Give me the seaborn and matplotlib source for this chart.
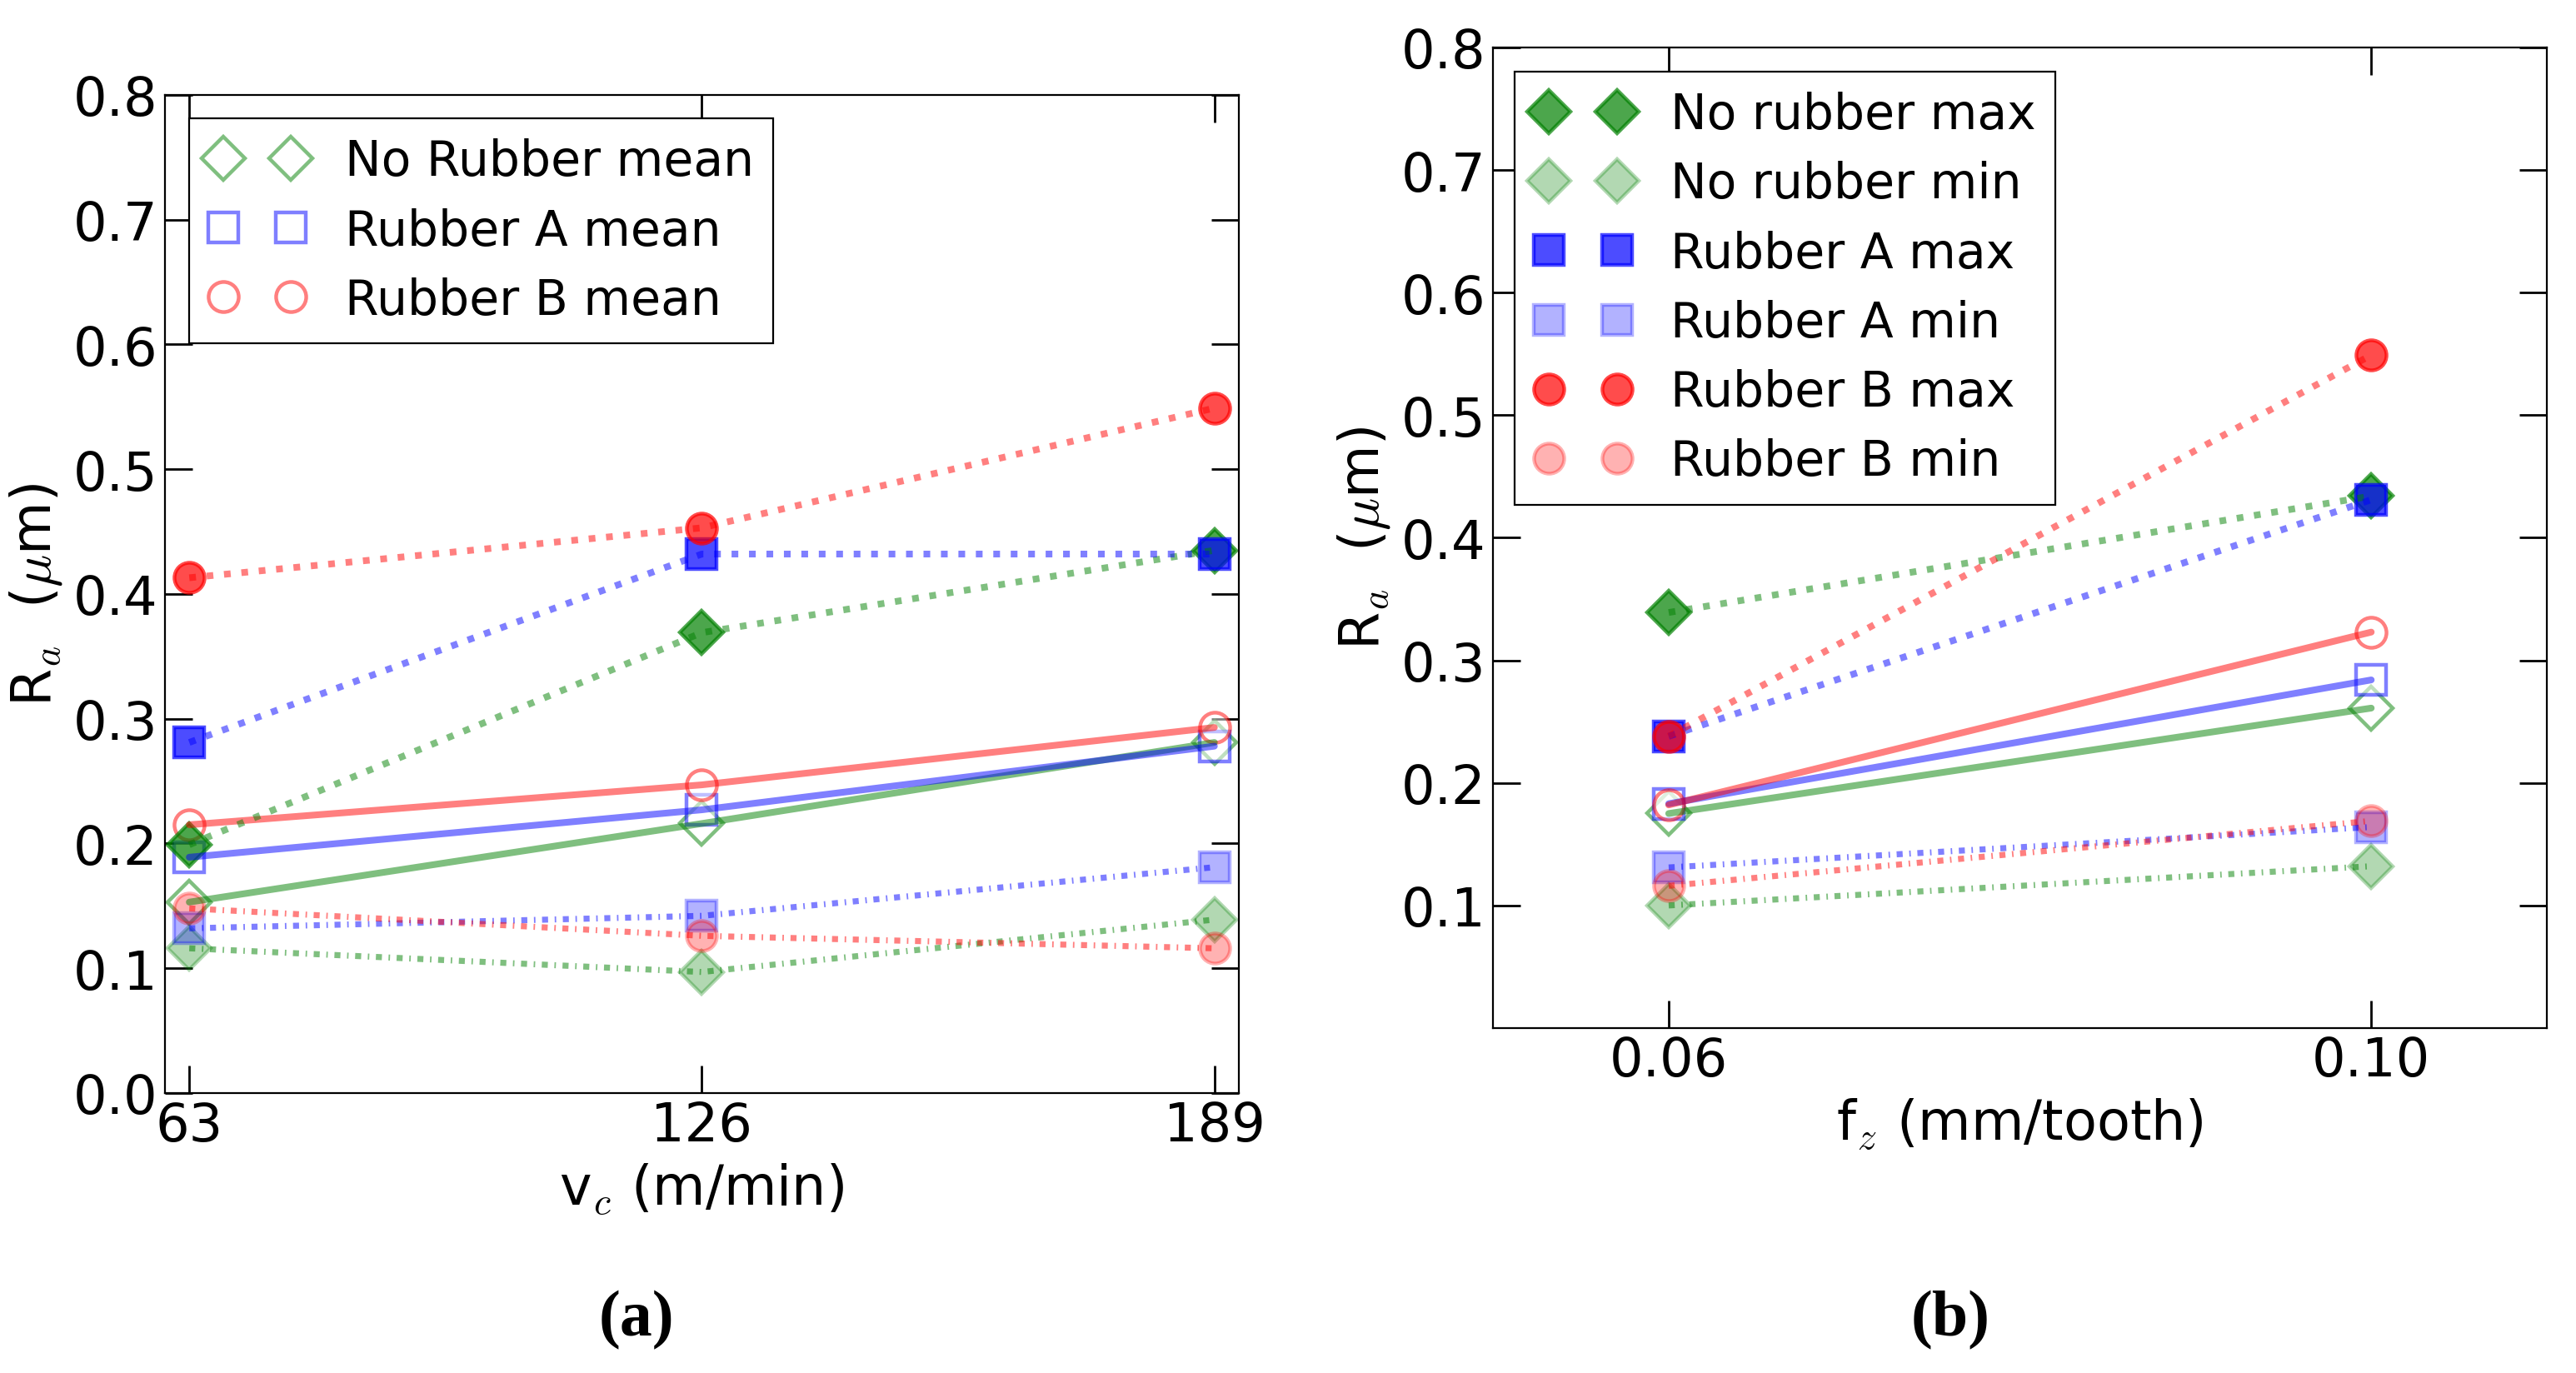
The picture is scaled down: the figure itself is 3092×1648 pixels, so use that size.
import matplotlib
matplotlib.use('Agg')
import matplotlib.pyplot as plt
from matplotlib.lines import Line2D
import seaborn as sns

# ---- dane: v_c
vc = [63, 126, 189]
vc_none_mean = [0.153, 0.216, 0.281]
vc_a_mean = [0.189, 0.227, 0.278]
vc_b_mean = [0.215, 0.247, 0.293]
vc_none_max = [0.199, 0.369, 0.435]
vc_a_max = [0.281, 0.432, 0.432]
vc_b_max = [0.413, 0.453, 0.549]
vc_none_min = [0.116, 0.097, 0.139]
vc_a_min = [0.132, 0.142, 0.181]
vc_b_min = [0.148, 0.126, 0.116]

# ---- dane: f_z
fz = [0.06, 0.10]
fz_none_mean = [0.175, 0.261]
fz_a_mean = [0.183, 0.284]
fz_b_mean = [0.182, 0.323]
fz_none_max = [0.339, 0.434]
fz_a_max = [0.238, 0.431]
fz_b_max = [0.238, 0.549]
fz_none_min = [0.100, 0.132]
fz_a_min = [0.131, 0.164]
fz_b_min = [0.116, 0.169]

vc_ticks = [63, 126, 189]
fz_ticks = [0.06, 0.10]
fz_ticklabels = ['0.06', '0.10']

labels_mean = ['No Rubber mean', 'Rubber A mean', 'Rubber B mean']
labels_maxmin = ['No rubber max', 'No rubber min', 'Rubber A max', 'Rubber A min',
                 'Rubber B max', 'Rubber B min']

kolory = ['#008000', '#0000ff', '#ff0000']
markery = ['D', 's', 'o']

sns.set_theme(style='white')
plt.rcParams.update({
    'font.family': ['DejaVu Sans'],
    'mathtext.fontset': 'cm',
    'font.size': 23, 'axes.labelsize': 23.5, 'xtick.labelsize': 23,
    'ytick.labelsize': 23, 'legend.fontsize': 21,
    'xtick.direction': 'in', 'ytick.direction': 'in',
    'xtick.bottom': True, 'ytick.left': True,
    'xtick.top': True, 'ytick.right': True,
    'xtick.major.size': 12, 'ytick.major.size': 12,
    'xtick.major.width': 1, 'ytick.major.width': 1,
    'xtick.major.pad': 3, 'ytick.major.pad': 3,
    'xtick.color': 'black', 'ytick.color': 'black',
    'axes.edgecolor': 'black', 'axes.linewidth': 0.8,
    'axes.labelcolor': 'black', 'text.color': 'black',
})

STYL = {
    'mean': dict(lw=2.9, ls='-', alpha=0.5),
    'max': dict(lw=2.9, ls=(0, (1, 1.6)), alpha=0.5),
    'min': dict(lw=2.6, ls=(0, (1, 1.1, 0.25, 1.1)), alpha=0.5),
}


def marker_kw(kolor, marker, rodzaj):
    if rodzaj == 'mean':
        return dict(marker=marker, ms=13, mfc='white', mec=kolor, mew=1.6, alpha=0.5)
    if rodzaj == 'max':
        return dict(marker=marker, ms=13, mfc=kolor, mec=kolor, mew=1.6, alpha=0.7)
    return dict(marker=marker, ms=13, mfc=kolor, mec=kolor, mew=1.6, alpha=0.3)


def rysuj(ax, x, serie):
    for rodzaj, wartosci in serie:
        for y, kolor, marker in zip(wartosci, kolory, markery):
            sns.lineplot(x=x, y=y, ax=ax, linestyle='none', zorder=2,
                         **marker_kw(kolor, marker, rodzaj))
    for rodzaj, wartosci in serie:
        for y, kolor in zip(wartosci, kolory):
            s = STYL[rodzaj]
            sns.lineplot(x=x, y=y, ax=ax, color=kolor, linewidth=s['lw'],
                         linestyle=s['ls'], alpha=s['alpha'], zorder=3)


def uchwyt(kolor, marker, rodzaj):
    return Line2D([], [], linestyle='none', **marker_kw(kolor, marker, rodzaj))


fig = plt.figure(figsize=(15.46, 8.245), dpi=200)
ax1 = fig.add_axes([0.0640, 0.2038, 0.4169, 0.7265])
ax2 = fig.add_axes([0.5796, 0.2511, 0.4091, 0.7138])

rysuj(ax1, vc, [('mean', [vc_none_mean, vc_a_mean, vc_b_mean]),
                ('max', [vc_none_max, vc_a_max, vc_b_max]),
                ('min', [vc_none_min, vc_a_min, vc_b_min])])
rysuj(ax2, fz, [('mean', [fz_none_mean, fz_a_mean, fz_b_mean]),
                ('max', [fz_none_max, fz_a_max, fz_b_max]),
                ('min', [fz_none_min, fz_a_min, fz_b_min])])

ax1.set_xlim(60, 192)
ax1.set_ylim(0, 0.8)
ax1.set_xticks(vc_ticks)
ax1.set_yticks([0.0, 0.1, 0.2, 0.3, 0.4, 0.5, 0.6, 0.7, 0.8])
ax1.set_xlabel(r'v$_c$ (m/min)')
ax1.set_ylabel(r'R$_a$  ($\mu$m)')

ax2.set_xlim(0.05, 0.11)
ax2.set_ylim(0, 0.8)
ax2.set_xticks(fz_ticks)
ax2.set_xticklabels(fz_ticklabels)
ax2.set_yticks([0.1, 0.2, 0.3, 0.4, 0.5, 0.6, 0.7, 0.8])
ax2.set_xlabel(r'f$_z$ (mm/tooth)')
ax2.set_ylabel(r'R$_a$  ($\mu$m)')

for ax in (ax1, ax2):
    for sp in ax.spines.values():
        sp.set_visible(True)
        sp.set_color('black')

h1 = [uchwyt(k, m, 'mean') for k, m in zip(kolory, markery)]
leg1 = ax1.legend(h1, labels_mean, loc='upper left', bbox_to_anchor=(0.0225, 0.9766),
                  borderaxespad=0, numpoints=2, handlelength=2, handletextpad=0.8,
                  labelspacing=0.45, frameon=True, fancybox=False, framealpha=1,
                  edgecolor='black')
leg1.get_frame().set_linewidth(0.8)

h2 = []
for k, m in zip(kolory, markery):
    h2.append(uchwyt(k, m, 'max'))
    h2.append(uchwyt(k, m, 'min'))
leg2 = ax2.legend(h2, labels_maxmin, loc='upper left', bbox_to_anchor=(0.0206, 0.9754),
                  borderaxespad=0, numpoints=2, handlelength=2, handletextpad=0.8,
                  labelspacing=0.45, frameon=True, fancybox=False, framealpha=1,
                  edgecolor='black')
leg2.get_frame().set_linewidth(0.8)

fig.text(0.247, 0.039, '(a)', ha='center', va='center', family='Liberation Serif',
         weight='bold', fontsize=28)
fig.text(0.757, 0.039, '(b)', ha='center', va='center', family='Liberation Serif',
         weight='bold', fontsize=28)

fig.savefig('out.png', dpi=200, facecolor='white')
